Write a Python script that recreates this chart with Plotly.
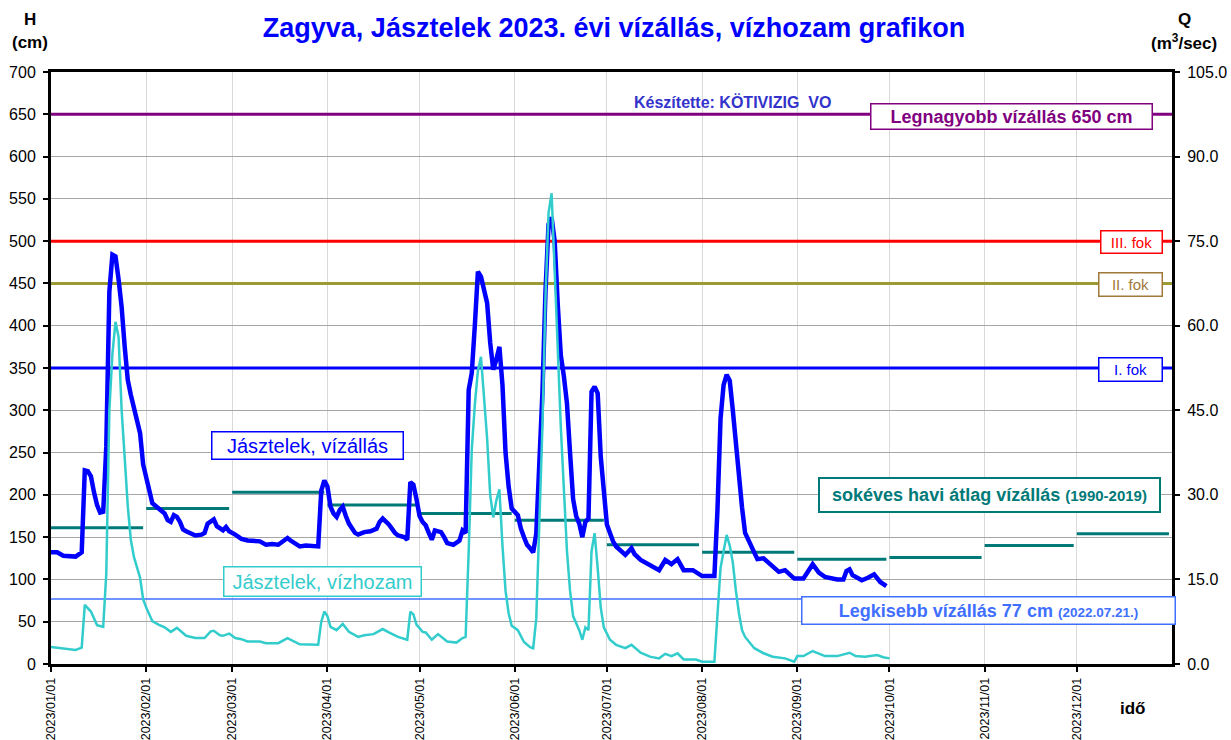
import pandas as pd
import plotly.graph_objects as go

START = pd.Timestamp("2023-01-01")
END = pd.Timestamp("2024-01-01")
FONT = "Liberation Sans, Arial, sans-serif"

# --- Water level H (cm): day offset from 2023-01-01
h_day = [0, 2, 4, 6, 8, 10, 11, 12, 13, 14, 15, 16, 17, 18, 19, 20, 21, 22, 23, 24,
         25, 26, 27, 28, 29, 30, 31, 32, 33, 34, 36, 37, 38, 39, 40, 41, 42, 43, 44, 46,
         47, 49, 50, 51, 52, 53, 54, 55, 56, 57, 58, 60, 62, 64, 66, 68, 70, 72, 74, 76,
         77, 78, 80, 81, 83, 85, 87, 88, 89, 90, 91, 92, 93, 94, 95, 96, 97, 99, 100, 102,
         104, 106, 107, 108, 109, 110, 112, 113, 115, 116, 117, 118, 119, 120, 121, 122, 123, 124, 125, 127,
         128, 129, 131, 133, 134, 135, 136, 137, 138, 139, 140, 141, 142, 143, 144, 145, 146, 147, 148, 149,
         150, 152, 153, 154, 155, 156, 157, 158, 159, 160, 161, 162, 163, 164, 165, 166, 167, 168, 169, 170,
         171, 172, 173, 174, 175, 176, 177, 178, 179, 180, 181, 182, 183, 184, 186, 187, 189, 190, 192, 195,
         198, 200, 201, 202, 204, 206, 209, 212, 216, 217, 218, 219, 220, 221, 222, 223, 224, 225, 226, 228,
         230, 232, 235, 237, 239, 242, 245, 248, 250, 252, 256, 258, 259, 260, 261, 264, 266, 268, 270, 272]
h_val = [132, 132, 128, 127, 127, 132, 229, 228, 222, 203, 188, 179, 180, 257, 440, 484, 482, 455, 422, 375,
         336, 318, 304, 288, 273, 236, 220, 202, 190, 187, 181, 178, 170, 168, 176, 174, 168, 159, 157, 154,
         152, 153, 155, 166, 169, 171, 163, 160, 158, 162, 157, 153, 148, 146, 145, 145, 141, 142, 141, 146,
         149, 146, 141, 139, 140, 139, 139, 205, 217, 210, 186, 178, 174, 182, 186, 175, 166, 155, 153, 156,
         157, 160, 168, 172, 168, 165, 155, 152, 150, 147, 215, 212, 195, 175, 168, 164, 155, 147, 158, 156,
         150, 143, 141, 146, 158, 155, 324, 344, 400, 464, 458, 445, 427, 380, 348, 360, 375, 330, 250, 210,
         184, 176, 160, 150, 141, 137, 132, 154, 230, 320, 440, 520, 528, 500, 425, 365, 340, 308, 250, 195,
         175, 166, 150, 168, 172, 322, 328, 320, 245, 200, 165, 155, 145, 139, 132, 129, 137, 130, 123, 117,
         111, 123, 120, 118, 124, 111, 111, 104, 104, 182, 290, 330, 342, 335, 300, 260, 229, 185, 155, 139,
         124, 125, 115, 109, 111, 101, 101, 118, 108, 103, 100, 100, 110, 112, 105, 99, 102, 106, 97, 92]

# --- Discharge Q (m3/sec)
q_day = [0, 4, 8, 10, 11, 13, 15, 17, 18, 19, 20, 21, 22, 23, 24, 25, 26, 27, 29, 30,
         31, 33, 35, 37, 39, 41, 44, 47, 50, 52, 53, 55, 56, 58, 60, 62, 64, 68, 70, 74,
         77, 81, 87, 88, 89, 90, 91, 93, 95, 97, 100, 102, 105, 108, 110, 113, 116, 117, 118, 119,
         121, 122, 124, 126, 129, 132, 134, 135, 136, 137, 138, 139, 140, 141, 142, 143, 144, 145, 146, 147,
         148, 149, 150, 152, 153, 154, 156, 157, 158, 159, 160, 161, 162, 163, 164, 165, 166, 167, 168, 169,
         170, 172, 173, 174, 175, 176, 177, 178, 179, 180, 182, 184, 187, 189, 192, 195, 198, 200, 202, 204,
         206, 210, 212, 216, 217, 218, 219, 220, 221, 222, 223, 224, 225, 226, 229, 232, 235, 239, 242, 243,
         245, 248, 252, 256, 260, 262, 265, 269, 271, 273]
q_val = [3.0, 2.7, 2.5, 2.9, 10.5, 9.3, 6.9, 6.6, 16, 45, 55, 60.7, 58, 45, 36, 28, 22, 19, 15.3, 11.5,
         10, 7.6, 7.0, 6.5, 5.7, 6.4, 5.0, 4.6, 4.6, 5.8, 5.9, 5.1, 5.0, 5.4, 4.6, 4.4, 4.0, 4.0, 3.7, 3.7,
         4.6, 3.5, 3.4, 7.5, 9.3, 8.5, 6.6, 6.0, 7.1, 5.7, 4.8, 5.1, 5.3, 6.2, 5.6, 4.8, 4.3, 9.3, 8.8, 7.0,
         5.7, 5.6, 4.3, 5.3, 4.0, 3.8, 4.6, 4.8, 20, 38, 46, 52, 54.5, 48, 40, 30, 26, 29, 31, 21,
         13, 9, 6.8, 6.0, 5.0, 3.9, 3.0, 2.8, 8, 25, 42, 65, 80, 83.5, 68, 56, 42, 30, 20, 13,
         8.5, 6.0, 4.3, 6.5, 6.0, 20, 23.2, 17, 10, 6.5, 4.3, 3.4, 2.8, 3.4, 2.0, 1.3, 1.0, 1.8, 1.4, 1.9,
         0.8, 0.8, 0.4, 0.4, 9.6, 17, 20, 22.9, 21, 18, 13, 9.0, 6.0, 4.8, 2.8, 1.9, 1.3, 1.0, 0.4, 1.4,
         1.4, 2.3, 1.4, 1.4, 2.0, 1.4, 1.3, 1.6, 1.2, 1.0]

# --- Long-term monthly mean water level (1990-2019), cm
month_avg = [161, 184, 203, 188, 178, 170, 141, 132, 124, 126, 140, 154]

# --- Reference levels (cm)
level_max = 650
level_iii = 500
level_ii = 450
level_i = 350
level_min = 77

h_ticks = list(range(0, 701, 50))
q_ticks = [0, 15, 30, 45, 60, 75, 90, 105]
month_ticks = pd.date_range("2023-01-01", "2023-12-01", freq="MS")

h_dates = START + pd.to_timedelta(h_day, unit="D")
q_dates = START + pd.to_timedelta(q_day, unit="D")

fig = go.Figure()

# reference level lines (drawn first so data lies on top)
levels = [(level_max, "#800080", 3), (level_iii, "#FF0000", 3), (level_ii, "#9C9A35", 3),
          (level_i, "#0000FF", 3), (level_min, "#3F6FFF", 1.5)]
for val, col, w in levels:
    fig.add_trace(go.Scatter(x=[START, END], y=[val, val], mode="lines",
                             line=dict(color=col, width=w), hoverinfo="skip"))

avg_x, avg_y = [], []
for i, v in enumerate(month_avg):
    s = month_ticks[i]
    e = s + pd.offsets.MonthEnd(0)
    avg_x += [s, e, None]
    avg_y += [v, v, None]

fig.add_trace(go.Scatter(x=avg_x, y=avg_y, mode="lines",
                         line=dict(color="#007A78", width=3), hoverinfo="skip"))
fig.add_trace(go.Scatter(x=h_dates, y=h_val, mode="lines",
                         line=dict(color="#0000FF", width=4.5)))
fig.add_trace(go.Scatter(x=q_dates, y=q_val, mode="lines", yaxis="y2",
                         line=dict(color="#33CCCC", width=2.5)))

# plot area in pixels: x 51..1172, y 72..664
PL, PR, PT, PB = 51, 1172, 72, 664


def px(x):
    return (x - PL) / (PR - PL)


def py(y):
    return (PB - y) / (PB - PT)


def label(text, cx, cy, size, color, bold=False, **kw):
    t = f"<b>{text}</b>" if bold else text
    return dict(text=t, xref="paper", yref="paper", x=px(cx), y=py(cy),
                xanchor="center", yanchor="middle", showarrow=False,
                font=dict(family=FONT, size=size, color=color), **kw)


def boxed(text, cx, cy, w, h, size, color, border, bold=False, bw=1.5):
    pad = 2
    return label(text, cx, cy, size, color, bold,
                 bgcolor="white", bordercolor=border, borderwidth=bw, borderpad=pad,
                 width=w - 2 * pad - 2 * bw, height=h - 2 * pad - 2 * bw)


annotations = [
    label("H", 30, 19, 17, "black", True),
    label("(cm)", 30, 42, 17, "black", True),
    label("Q", 1184, 19, 17, "black", True),
    label("(m<sup>3</sup>/sec)", 1184, 42, 17, "black", True),
    label("idő", 1133, 708, 17, "black", True),
    label("Készítette: KÖTIVIZIG\u00a0 VO", 732, 102, 16, "#3333CC", True),
    boxed("Legnagyobb vízállás 650 cm", 1011, 116, 283, 27, 18, "#800080", "#800080", True),
    boxed("III. fok", 1131, 242, 63, 24, 15, "#FF0000", "#FF0000"),
    boxed("II. fok", 1130, 284, 65, 25, 15, "#A07838", "#A07838"),
    boxed("I. fok", 1130, 369, 65, 25, 15, "#0000FF", "#0000FF"),
    boxed("Jásztelek, vízállás", 307, 445, 193, 29, 20, "#0000FF", "#0000FF"),
    boxed("Jásztelek, vízhozam", 322, 581, 199, 31, 20, "#33CCCC", "#33CCCC"),
    boxed("sokéves havi átlag vízállás <span style='font-size:15px'>(1990-2019)</span>",
          989, 495, 343, 36, 18, "#007A78", "#007A78", True, bw=2),
    boxed("Legkisebb vízállás 77 cm <span style='font-size:13.5px'>(2022.07.21.)</span>",
          988, 610, 375, 29, 18, "#3F6FFF", "#3F6FFF", True),
]

fig.update_layout(
    width=1231, height=740,
    margin=dict(l=PL, r=1231 - PR, t=PT, b=740 - PB, autoexpand=False),
    paper_bgcolor="white", plot_bgcolor="white",
    showlegend=False,
    font=dict(family=FONT, color="black"),
    title=dict(text="<b>Zagyva, Jásztelek 2023. évi vízállás, vízhozam grafikon</b>",
               x=614 / 1231, xanchor="center", y=1 - 28 / 740, yanchor="middle",
               font=dict(family=FONT, size=27, color="#0000FF")),
    xaxis=dict(type="date", range=[START, END],
               tickvals=list(month_ticks), tickformat="%Y/%m/%d", tickangle=-90,
               tickfont=dict(size=12.5, color="black"),
               showgrid=True, gridcolor="#D9D9D9", gridwidth=1,
               showline=True, linecolor="black", linewidth=2.5, mirror=True,
               ticks="outside", ticklen=5, tickcolor="black", tickwidth=1.5,
               ticklabelstandoff=1, zeroline=False),
    yaxis=dict(range=[0, 700], tickvals=h_ticks,
               tickfont=dict(size=16, color="black"),
               showgrid=True, gridcolor="#A6A6A6", gridwidth=1,
               showline=True, linecolor="black", linewidth=3,
               ticks="outside", ticklen=5, tickwidth=2, tickcolor="black",
               ticklabelstandoff=4, zeroline=False),
    yaxis2=dict(range=[0, 105], tickvals=q_ticks, tickformat=".1f",
                overlaying="y", side="right",
                tickfont=dict(size=16, color="black"),
                showgrid=False, showline=True, linecolor="black", linewidth=3,
                ticks="outside", ticklen=5, tickwidth=2, tickcolor="black",
                ticklabelstandoff=4, zeroline=False),
    annotations=annotations,
)

fig.write_html("out.html", config={"displayModeBar": False},
               post_script="document.body.style.margin='0';document.body.style.padding='0';")
